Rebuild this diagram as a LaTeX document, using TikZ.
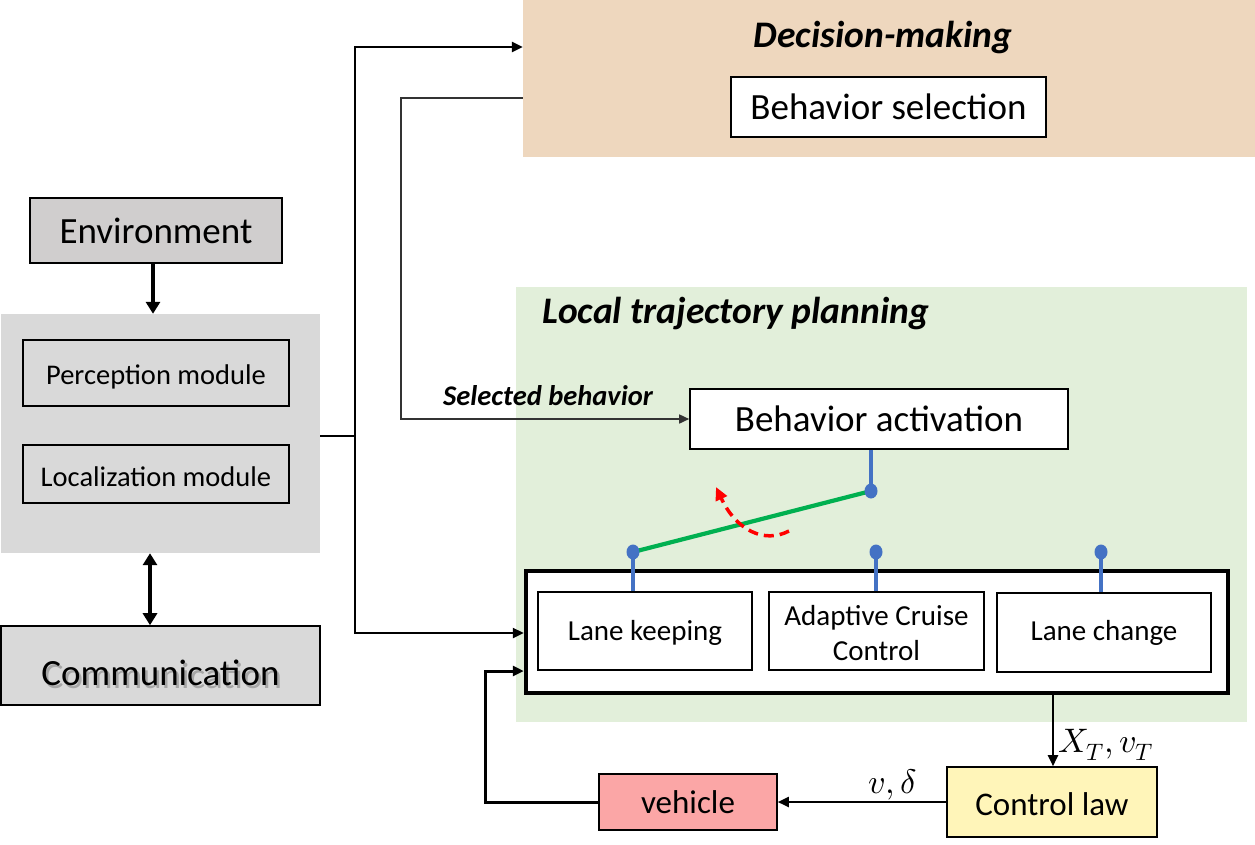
\documentclass[tikz,border=0pt]{standalone}
\usepackage{fontspec}
\usepackage{unicode-math}
\setmainfont{Carlito}
\setmathfont{Latin Modern Math}
\usetikzlibrary{arrows.meta,shapes.geometric}
\definecolor{dmtan}{RGB}{238,215,190}
\definecolor{ltpgreen}{RGB}{226,239,218}
\definecolor{sensgray}{RGB}{217,217,217}
\definecolor{envgray}{RGB}{208,206,206}
\definecolor{clyellow}{RGB}{255,245,185}
\definecolor{vehred}{RGB}{251,166,166}
\definecolor{swblue}{RGB}{68,114,196}
\definecolor{swgreen}{RGB}{0,176,80}
\newcommand{\fs}[1]{\fontsize{#1}{#1}\selectfont}
\newcommand{\lowerby}[2]{\raisebox{-#1}[\height][\depth]{#2}}
\tikzset{
  box/.style={draw=black, line width=1.6pt, inner sep=0pt, align=center},
  region/.style={draw=none, inner sep=0pt},
  conn/.style={line width=2.4pt, -{Triangle[length=11pt,width=10pt]}},
  thickconn/.style={line width=4.5pt, -{Triangle[length=12pt,width=14pt]}},
  dblconn/.style={line width=4.5pt, {Triangle[length=12pt,width=14pt]}-{Triangle[length=12pt,width=14pt]}},
  swdot/.style={ellipse, fill=swblue, inner sep=0pt, minimum width=13pt, minimum height=15pt},
  bluel/.style={swblue, line width=3.8pt},
  titletext/.style={font=\fs{37.5}\bfseries\itshape, inner sep=0pt}
}
\begin{document}
\begin{tikzpicture}[x=1pt,y=-1pt]
\useasboundingbox (0,0) rectangle (1255,844);
% regions
\node[region, fill=dmtan, minimum width=732pt, minimum height=157pt] (dm) at (889,78.5) {};
\node[titletext] (dmt) at (883,37) {Decision-making};
\node[box, fill=white, minimum width=315pt, minimum height=60pt, font=\fs{37}] (bs) at (888.5,107) {Behavior selection};

\node[region, fill=ltpgreen, minimum width=731pt, minimum height=435pt] (ltp) at (881.5,504.5) {};
\node[titletext, anchor=west] (ltpt) at (542,314) {Local trajectory planning};

% left column
\node[box, fill=envgray, minimum width=252pt, minimum height=65pt, font=\fs{37}] (env) at (156,230.5) {Environment};
\node[region, fill=sensgray, minimum width=319pt, minimum height=239pt] (sens) at (160.5,433.5) {};
\node[box, fill=sensgray, minimum width=266pt, minimum height=66pt, font=\fs{28.5}] (perc) at (156,373) {\lowerby{4pt}{Perception module}};
\node[box, fill=sensgray, minimum width=266pt, minimum height=58pt, font=\fs{28.5}] (loc) at (156,474) {\lowerby{3pt}{Localization module}};
\node[box, fill=sensgray, minimum width=319pt, minimum height=79pt, font=\fs{37}] (comm) at (160.5,665.5)
  {\lowerby{9pt}{\makebox[0pt][l]{\hspace{2.5pt}\raisebox{-2.5pt}{\color{black!35}Communication}}Communication}};

% planning boxes
\node[box, fill=white, minimum width=378pt, minimum height=60pt, font=\fs{37}] (ba) at (879,419) {Behavior activation};
\node[box, fill=white, line width=4.5pt, minimum width=702pt, minimum height=122pt] (outer) at (877,632) {};
\node[box, fill=white, minimum width=214pt, minimum height=78pt, font=\fs{29}] (lk) at (645,631) {\lowerby{2pt}{Lane keeping}};
\node[box, fill=white, minimum width=215pt, minimum height=78pt, font=\fs{29}, align=center] (acc) at (876.5,631) {\lowerby{2pt}{\shortstack{Adaptive Cruise\\[7pt]Control}}};
\node[box, fill=white, minimum width=214pt, minimum height=79pt, font=\fs{29}] (lc) at (1104,632.5) {Lane change};

% control loop
\node[box, fill=clyellow, minimum width=210pt, minimum height=70pt, font=\fs{33}] (cl) at (1052,802) {\lowerby{2pt}{Control law}};
\node[box, fill=vehred, minimum width=178pt, minimum height=56pt, font=\fs{33}] (veh) at (688,802) {vehicle};

% left connectors
\draw[thickconn] (env.south -| 153,0) -- (sens.north -| 153,0);
\draw[dblconn] (sens.south -| 150,0) -- (comm.north -| 150,0);
\coordinate (j) at (355,436);
\draw[line width=2.4pt] (sens.east |- j) -- (j);
\draw[conn] (j) |- (dm.west |- 0,47);
\draw[conn] (j) |- (outer.west |- 0,633);

% selected behavior
\coordinate (sb) at (401,98);
\draw[line width=1.6pt, black!80, -{Triangle[length=10pt,width=9pt]}] (dm.west |- sb) -- (sb) |- (ba.west);
\node[font=\fs{28.5}\bfseries\itshape, inner sep=0pt] (sbl) at (548,396) {Selected behavior};

% switch
\coordinate (p0) at (871,491);
\coordinate (p1) at (633,552);
\coordinate (p2) at (876,552);
\coordinate (p3) at (1101,552);
\draw[bluel] (ba.south -| p0) -- (p0);
\draw[bluel] (p1) -- (lk.north -| p1);
\draw[bluel] (p2) -- (acc.north -| p2);
\draw[bluel] (p3) -- (lc.north -| p3);
\draw[swgreen, line width=4.2pt] (p1) -- (p0);
\node[swdot] at (p0) {};
\node[swdot] at (p1) {};
\node[swdot] at (p2) {};
\node[swdot] at (p3) {};
\coordinate (r0) at (789,531);
\coordinate (r1) at (716,487);
\draw[red, line width=3.5pt, dash pattern=on 10pt off 6pt, -{Triangle[length=13pt,width=12pt]}] (r0) .. controls (764,544) and (736,530) .. (r1);

% output and feedback
\coordinate (oc) at (1053,0);
\draw[conn, line width=2pt] (outer.south -| oc) -- (cl.north -| oc);
\node[font=\fs{34}, anchor=west, inner sep=0pt] (xl) at (1058,745) {$X_T, v_T$};
\draw[conn, line width=2pt] (cl.west) -- (veh.east);
\node[font=\fs{34}, inner sep=0pt] (vl) at (893,785) {$v, \delta$};
\coordinate (fb) at (485,671);
\draw[conn, line width=3pt] (veh.west) -| (fb) -- (outer.west |- fb);
\end{tikzpicture}
\end{document}
